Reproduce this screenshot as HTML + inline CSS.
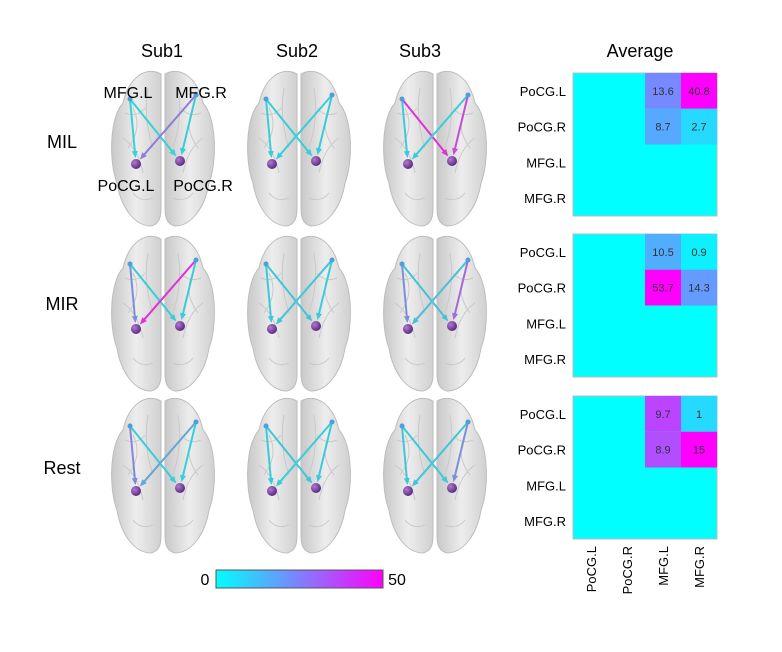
<!DOCTYPE html>
<html><head><meta charset="utf-8"><style>
body{margin:0;background:#fff;}
svg{display:block;font-family:"Liberation Sans",Arial,sans-serif;}
</style></head><body>
<svg id="fig" width="782" height="652" viewBox="0 0 782 652">
<defs>
<linearGradient id="hemiG" x1="0" y1="0" x2="1" y2="0">
<stop offset="0" stop-color="#c8c8c8"/><stop offset="0.5" stop-color="#ededed"/><stop offset="1" stop-color="#d0d0d0"/>
</linearGradient>
<linearGradient id="cbar" x1="0" y1="0" x2="1" y2="0">
<stop offset="0" stop-color="#00ffff"/><stop offset="1" stop-color="#ff00ff"/>
</linearGradient>
<radialGradient id="nodeG" cx="0.35" cy="0.35" r="0.7"><stop offset="0" stop-color="#b07ad0"/><stop offset="1" stop-color="#5a2580"/></radialGradient>
</defs>
<g id="titles"></g>
<g id="brains"></g>
<g id="heatmaps"></g>
<g id="colorbar">
<rect x="216" y="570" width="167" height="18" fill="url(#cbar)" stroke="#555" stroke-width="1"/>
<text x="205" y="585" font-size="16" text-anchor="middle">0</text>
<text x="397" y="585" font-size="16" text-anchor="middle">50</text>
</g>
</svg>
<script>
// ---- data ----
const subjects = ["Sub1","Sub2","Sub3"];
const conditions = ["MIL","MIR","Rest"];
const regions = ["PoCG.L","PoCG.R","MFG.L","MFG.R"];
// edge weights per condition, per subject: [MFG.L->PoCG.L, MFG.L->PoCG.R, MFG.R->PoCG.L, MFG.R->PoCG.R]
const edgesMIL = [[3,3,25,4],[4,4,4,5],[5,45,4,38]];
const edgesMIR = [[20,4,45,5],[5,6,6,4],[20,8,8,30]];
const edgesRest = [[22,4,14,3],[5,6,4,4],[6,5,6,20]];
// average matrices (rows PoCG.L, PoCG.R; cols MFG.L, MFG.R)
const avgMIL = [[13.6,40.8],[8.7,2.7]];
const avgMIR = [[10.5,0.9],[53.7,14.3]];
const avgRest = [[9.7,1],[8.9,15]];
const vmax = 50;

const NS="http://www.w3.org/2000/svg";
function mk(tag,attrs,parent){const e=document.createElementNS(NS,tag);for(const k in attrs)e.setAttribute(k,attrs[k]);parent.appendChild(e);return e;}
function cool(t){t=Math.max(0,Math.min(1,t));return `rgb(${Math.round(255*t)},${Math.round(255*(1-t))},255)`;}
function edgeCol(t){t=Math.max(0,Math.min(1,t));const r=255*t,g=255*(1-t),b=255;
  return `rgb(${Math.round(r*0.8+40)},${Math.round(g*0.75+30)},${Math.round(b*0.85)})`;}

const titles=document.getElementById('titles');
const subX=[162,297,420];
subjects.forEach((s,i)=>{const t=mk('text',{x:subX[i],y:57,'font-size':18,'text-anchor':'middle'},titles);t.textContent=s;

});
const at=mk('text',{x:640,y:57,'font-size':18,'text-anchor':'middle'},titles);at.textContent="Average";


const rowTop=[68,233,395];
const rowLabY=[148,310,474];
conditions.forEach((c,i)=>{const t=mk('text',{x:62,y:rowLabY[i],'font-size':18,'text-anchor':'middle'},titles);t.textContent=c;

});

// brains
const brains=document.getElementById('brains');
const centers=[163,299,435];
const allEdges=[edgesMIL,edgesMIR,edgesRest];
function hemi(g,cx,top,side){
  const s=side;
  const d=`M ${cx-2*s} ${top+6} C ${cx-16*s} ${top-2}, ${cx-34*s} ${top+8}, ${cx-40*s} ${top+35}
  C ${cx-54*s} ${top+50}, ${cx-54*s} ${top+95}, ${cx-46*s} ${top+115}
  C ${cx-42*s} ${top+140}, ${cx-28*s} ${top+158}, ${cx-12*s} ${top+158}
  C ${cx-4*s} ${top+156}, ${cx-2*s} ${top+150}, ${cx-2*s} ${top+140} Z`;
  mk('path',{d:d,fill:'url(#hemiG)',stroke:'#bdbdbd','stroke-width':1},g);
  mk('path',{d:`M ${cx-30*s} ${top+40} q ${10*s} 20 ${-5*s} 40 M ${cx-40*s} ${top+70} q ${15*s} 10 ${20*s} 35 M ${cx-15*s} ${top+20} q ${-5*s} 30 ${5*s} 60 M ${cx-38*s} ${top+45} q ${12*s} 5 ${20*s} -5 M ${cx-30*s} ${top+125} q ${8*s} 10 ${20*s} 5`,fill:'none',stroke:'#c9c9c9','stroke-width':1},g);
}
function arrow(g,x1,y1,x2,y2,col){
  const dx=x2-x1,dy=y2-y1,L=Math.hypot(dx,dy),ux=dx/L,uy=dy/L;
  const ex=x2-ux*6,ey=y2-uy*6;
  mk('line',{x1:x1,y1:y1,x2:ex-ux*4,y2:ey-uy*4,stroke:col,'stroke-width':2},g);
  mk('polygon',{points:`${ex},${ey} ${ex-ux*7-uy*3},${ey-uy*7+ux*3} ${ex-ux*7+uy*3},${ey-uy*7-ux*3}`,fill:col},g);
}
conditions.forEach((c,ci)=>{
  subjects.forEach((s,si)=>{
    const cx=centers[si],top=rowTop[ci];
    const g=mk('g',{},brains);
    
    
    hemi(g,cx,top,1);hemi(g,cx,top,-1);
    const mL=[cx-33,top+31],mR=[cx+33,top+27],pL=[cx-27,top+96],pR=[cx+17,top+93];
    const e=allEdges[ci][si];
    const pairs=[[mL,pL],[mL,pR],[mR,pL],[mR,pR]];
    pairs.forEach((p,k)=>arrow(g,p[0][0],p[0][1],p[1][0],p[1][1],edgeCol(e[k]/vmax)));
    [mL,mR].forEach(p=>mk('circle',{cx:p[0],cy:p[1],r:2.5,fill:'#4aa0d8'},g));
    [pL,pR].forEach(p=>mk('circle',{cx:p[0],cy:p[1],r:5,fill:'url(#nodeG)'},g));
    if(ci===0&&si===0){
      [["MFG.L",128,98],["MFG.R",201,98],["PoCG.L",126,191],["PoCG.R",203,191]].forEach(l=>{
        const t=mk('text',{x:l[1],y:l[2],'font-size':16,'text-anchor':'middle'},g);t.textContent=l[0];
        
        });
    }
  });
});

// heatmaps
const hm=document.getElementById('heatmaps');
const hmX=573,cw=36,ch=35.75,hmTop=[73,234,396];
const avgs=[avgMIL,avgMIR,avgRest];
conditions.forEach((c,ci)=>{
  const g=mk('g',{},hm);
  
  
  const top=hmTop[ci];
  mk('rect',{x:hmX,y:top,width:cw*4,height:ch*4,fill:'#00ffff',stroke:'#bbb','stroke-width':1},g);
  const m=avgs[ci];const mx=Math.max(...m.flat());
  m.forEach((row,r)=>row.forEach((v,k)=>{
    const x=hmX+(k+2)*cw,y=top+r*ch;
    const cell=mk('rect',{x:x,y:y,width:cw,height:ch,fill:cool(Math.pow(v/mx,0.7))},g);
    
    
    const t=mk('text',{x:x+cw/2,y:y+ch/2+4,'font-size':11,'text-anchor':'middle',fill:'#333'},g);t.textContent=v;
    
    
  }));
  regions.forEach((rg,r)=>{
    const t=mk('text',{x:566,y:top+r*ch+ch/2+5,'font-size':13,'text-anchor':'end'},g);t.textContent=rg;
    
    
  });
});
regions.forEach((rg,k)=>{
  const x=hmX+k*cw+cw/2+5,y=546;
  const t=mk('text',{x:x,y:y,'font-size':13,'text-anchor':'end',transform:`rotate(-90 ${x} ${y})`},hm);t.textContent=rg;
  
  
});
</script>
</body></html>
